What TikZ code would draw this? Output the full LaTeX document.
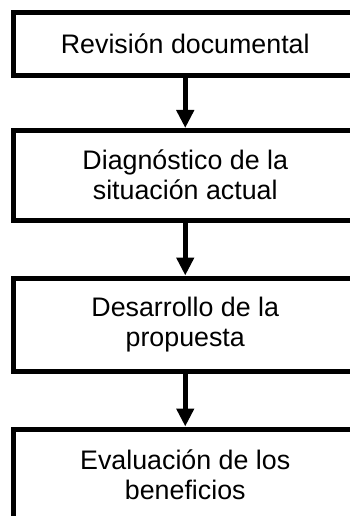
\documentclass[tikz,border=0pt]{standalone}
\usepackage{fontspec}
\setmainfont{Liberation Sans}
\usetikzlibrary{arrows.meta}
\begin{document}
\begin{tikzpicture}[x=1pt,y=-1pt,
  stepbox/.style={draw=black,line width=5pt,fill=white,rectangle,inner sep=0pt,
    minimum width=343.5pt,align=center,
    font=\fontsize{26.8}{30}\selectfont},
  flowarrow/.style={draw=black,line width=5pt,-{Triangle[width=17pt,length=18pt]}}]
\useasboundingbox (0,0) rectangle (350,516);
\clip (0,0) rectangle (350,516);
\fill[white] (0,0) rectangle (350,516);
\node[stepbox,minimum height=62.5pt] (b1) at (185.25,44.25) {Revisión documental};
\node[stepbox,minimum height=89.5pt] (b2) at (185.25,175.25) {Diagnóstico de la\\situación actual};
\node[stepbox,minimum height=93pt] (b3) at (185.25,324.5) {Desarrollo de la\\propuesta};
\node[stepbox,minimum height=92pt] (b4) at (185.25,475) {Evaluación de los\\beneficios};
\draw[flowarrow] (b1.south) -- (b2.north);
\draw[flowarrow] (b2.south) -- (b3.north);
\draw[flowarrow] (b3.south) -- (b4.north);
\end{tikzpicture}
\end{document}
